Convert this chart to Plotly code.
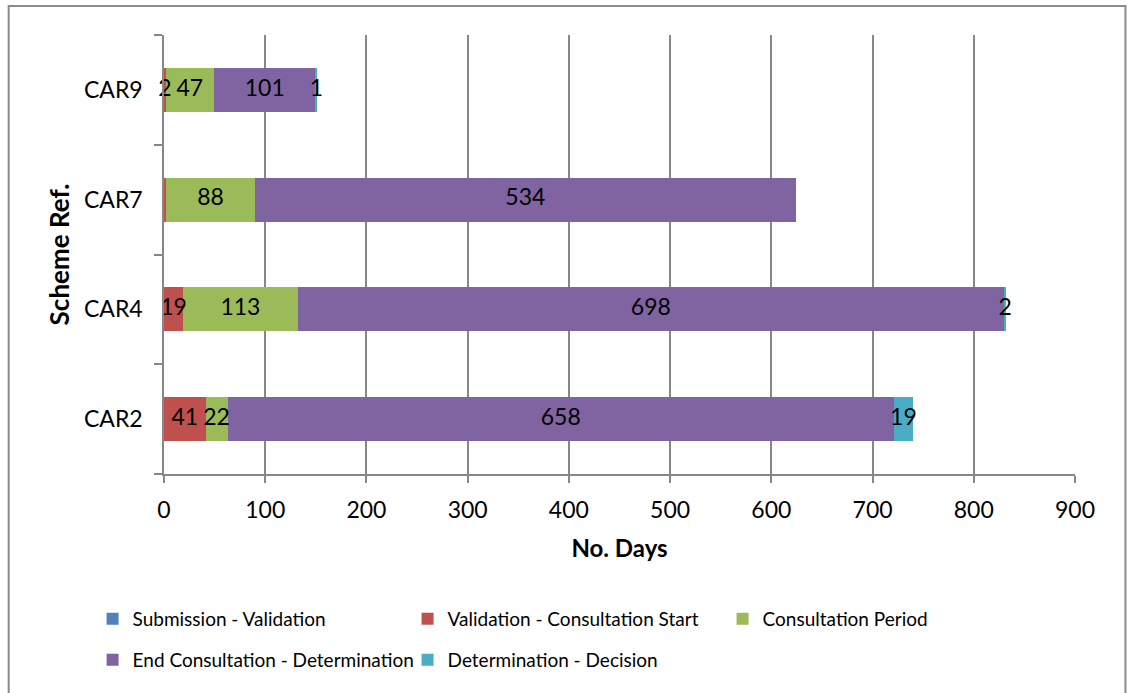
import plotly.graph_objects as go

# Scheme references (bottom to top) and days spent in each stage
schemes = ["CAR2", "CAR4", "CAR7", "CAR9"]
submission_validation = [0, 0, 0, 0]
validation_consultation = [41, 19, 2, 2]
consultation_period = [22, 113, 88, 47]
end_consultation_determination = [658, 698, 534, 101]
determination_decision = [19, 2, 0, 1]

# Labels printed on each segment ("" where the stage is not annotated)
submission_labels = ["", "", "", ""]
validation_labels = ["41", "19", "", "2"]
consultation_labels = ["22", "113", "88", "47"]
determination_labels = ["658", "698", "534", "101"]
decision_labels = ["19", "2", "", "1"]

x_ticks = [0, 100, 200, 300, 400, 500, 600, 700, 800, 900]

FONT = "Lato"
GRID = "#878787"

series = [
    ("Submission - Validation", submission_validation, submission_labels, "#4F81BD", "legend"),
    ("Validation - Consultation Start", validation_consultation, validation_labels, "#C0504D", "legend"),
    ("Consultation Period", consultation_period, consultation_labels, "#9BBB59", "legend"),
    ("End Consultation - Determination", end_consultation_determination, determination_labels, "#8064A2", "legend2"),
    ("Determination - Decision", determination_decision, decision_labels, "#4BACC6", "legend2"),
]

fig = go.Figure()
for name, values, labels, color, leg in series:
    fig.add_trace(go.Bar(
        y=schemes,
        x=values,
        name=name,
        orientation="h",
        marker=dict(color=color, line=dict(width=0)),
        legend=leg,
        hoverinfo="x+name",
    ))

# Segment labels sit on top of all bars, centred in their own segment
label_x, label_y, label_t = [], [], []
offsets = [0] * len(schemes)
for name, values, labels, color, leg in series:
    for i, (v, t) in enumerate(zip(values, labels)):
        if t:
            label_x.append(offsets[i] + v / 2)
            label_y.append(schemes[i])
            label_t.append(t)
        offsets[i] += v

fig.add_trace(go.Scatter(
    x=label_x,
    y=label_y,
    text=label_t,
    mode="text",
    textposition="middle center",
    textfont=dict(family=FONT, size=23, color="black"),
    showlegend=False,
    cliponaxis=False,
    hoverinfo="skip",
))

# Plot-area geometry in pixels, used to place the outer frame and legends
L, R, T, B = 163.5, 1075.5, 35, 474
W_PLOT, H_PLOT = R - L, B - T


def px_x(p):
    return (p - L) / W_PLOT


def px_y(p):
    return (B - p) / H_PLOT


legend_style = dict(
    orientation="h",
    xanchor="left",
    yanchor="top",
    font=dict(family=FONT, size=19),
    entrywidth=270,
    bgcolor="rgba(0,0,0,0)",
    traceorder="normal",
)

fig.update_layout(
    width=1128,
    height=693,
    margin=dict(l=L, r=1128 - R, t=T, b=693 - B, autoexpand=False),
    barmode="stack",
    bargap=0.6,
    plot_bgcolor="white",
    paper_bgcolor="white",
    font=dict(family=FONT, size=23, color="black"),
    showlegend=True,
    xaxis=dict(
        range=[0, 900],
        tickvals=x_ticks,
        ticktext=[str(v) for v in x_ticks],
        showgrid=True,
        gridcolor=GRID,
        gridwidth=1.5,
        zeroline=False,
        showline=True,
        linecolor=GRID,
        linewidth=1.5,
        ticks="outside",
        ticklen=7,
        tickwidth=1.5,
        tickcolor=GRID,
        tickfont=dict(family=FONT, size=23),
        ticklabelstandoff=8,
        title=dict(text="<b>No. Days</b>", font=dict(family=FONT, size=24), standoff=18),
    ),
    yaxis=dict(
        categoryorder="array",
        categoryarray=schemes,
        showgrid=False,
        zeroline=False,
        showline=True,
        linecolor=GRID,
        linewidth=1.5,
        ticks="outside",
        tickson="boundaries",
        ticklen=8,
        tickwidth=1.5,
        tickcolor=GRID,
        tickfont=dict(family=FONT, size=23),
        ticklabelstandoff=15,
        title=dict(text="<b>Scheme Ref.</b>", font=dict(family=FONT, size=26), standoff=7),
    ),
    legend=dict(legend_style, x=px_x(92), y=px_y(600)),
    legend2=dict(legend_style, x=px_x(92), y=px_y(641)),
    shapes=[
        dict(
            type="rect", xref="paper", yref="paper",
            x0=px_x(8), x1=px_x(1126), y0=px_y(700), y1=px_y(6),
            line=dict(color="#8a8a8a", width=2), fillcolor="rgba(0,0,0,0)",
            layer="below",
        )
    ],
)

fig.write_html("out.html")
